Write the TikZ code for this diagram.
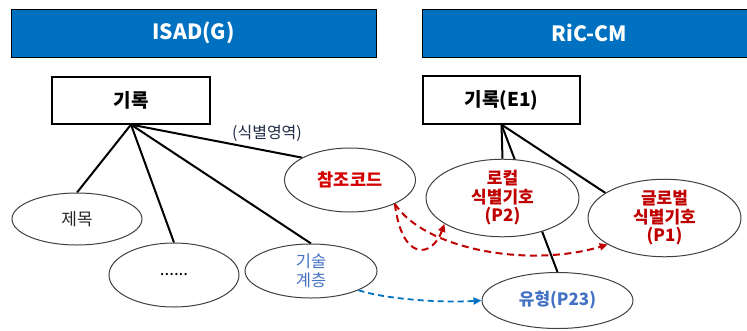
\documentclass[tikz,border=0pt]{standalone}
\usepackage{fontspec}
\setmainfont{Noto Sans CJK KR}
\usetikzlibrary{shapes.geometric,arrows.meta,backgrounds}
\definecolor{hdrblue}{HTML}{0070C0}
\definecolor{darkred}{HTML}{C00000}
\definecolor{brightred}{HTML}{D40000}
\definecolor{txtblue}{HTML}{4472C4}
\definecolor{lblnavy}{HTML}{1F2A44}
\definecolor{ellgray}{HTML}{404040}
\begin{document}
\begin{tikzpicture}[x=1pt,y=-1pt,
  hdr/.style={draw=black,line width=1pt,fill=hdrblue,text=white,inner sep=0pt,
    font=\fontsize{21}{23}\selectfont\bfseries},
  recbox/.style={draw=black,line width=1.2pt,fill=white,inner sep=0pt,
    font=\fontsize{19}{21}\selectfont\bfseries},
  ell/.style={ellipse,draw=ellgray,line width=1pt,fill=white,inner sep=0pt,align=center},
  conn/.style={line width=2pt,black},
  reddash/.style={line width=2pt,darkred,dash pattern=on 7pt off 4.5pt,
    -{Triangle[length=8pt,width=7pt]}},
  bluedash/.style={line width=1.8pt,hdrblue,dash pattern=on 6pt off 4pt,
    -{Triangle[length=8pt,width=7pt]}},
  lbl/.style={inner sep=0pt,text=lblnavy,font=\fontsize{16}{18}\selectfont}
]
\useasboundingbox (0,0) rectangle (747,330);

% headers
\node[hdr,minimum width=365pt,minimum height=48pt] (hisad) at (193.5,33) {ISAD(G)};
\node[hdr,minimum width=334pt,minimum height=48pt] (hric) at (589,33) {RiC-CM};

% record boxes
\node[recbox,minimum width=158pt,minimum height=47pt] (rec) at (131,100.5) {기록};
\node[recbox,minimum width=157pt,minimum height=48pt] (e1) at (501.5,100) {기록(E1)};

% ellipses
\node[ell,minimum width=130pt,minimum height=52pt,text=black!85,
  font=\fontsize{17}{19}\selectfont] (title) at (77,219) {제목};
\node[ell,minimum width=130pt,minimum height=64pt,
  font=\fontsize{17}{19}\selectfont] (etc) at (174,275) {......};
\node[ell,minimum width=132pt,minimum height=54pt,text=txtblue,
  font=\fontsize{16.5}{18.5}\selectfont] (tech) at (311,271) {기술\\계층};
\node[ell,minimum width=131pt,minimum height=64pt,text=brightred,
  font=\fontsize{17.5}{19}\selectfont\bfseries] (ref) at (350,180) {참조코드};
\node[ell,minimum width=153pt,minimum height=64pt,text=darkred,
  font=\fontsize{17}{18.5}\selectfont\bfseries] (local) at (502.5,198) {로컬\\식별기호\\(P2)};
\node[ell,minimum width=153pt,minimum height=64pt,text=darkred,
  font=\fontsize{17}{18.5}\selectfont\bfseries] (global) at (664.5,218) {글로벌\\식별기호\\(P1)};
\node[ell,minimum width=151pt,minimum height=56pt,text=txtblue,
  font=\fontsize{17}{19}\selectfont\bfseries] (type) at (557.5,300.5) {유형(P23)};

% label
\node[lbl] (idarea) at (267,133) {(식별영역)};

% connectors (behind nodes)
\begin{pgfonlayer}{background}
\draw[conn] (rec.south) -- (title.north);
\draw[conn] (rec.south) -- (etc.north);
\draw[conn] (rec.south) -- (tech.north);
\draw[conn] (rec.south) -- (ref.155);
\draw[conn] (e1.south) -- (local.north);
\draw[conn] (e1.south) -- (type.north);
\draw[conn] (e1.south) -- (global.157);
\end{pgfonlayer}

% dashed arrows
\draw[reddash] (ref.-28) .. controls (402,262) and (432,258) .. (local.-156);
\draw[reddash] (ref.-28) .. controls (425,250) and (530,268) .. (global.-155);
\draw[bluedash] (tech.-22) .. controls (385,299) and (440,303) .. (type.west);
\end{tikzpicture}
\end{document}
